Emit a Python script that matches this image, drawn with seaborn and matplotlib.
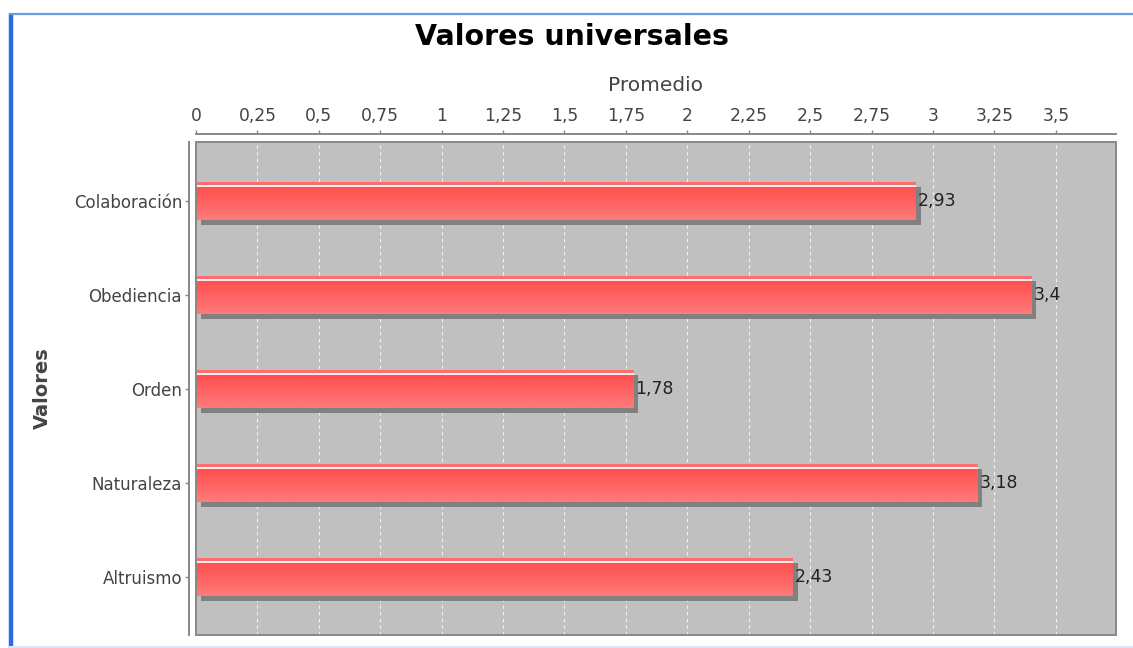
import numpy as np
import pandas as pd
import matplotlib
matplotlib.use("Agg")
import matplotlib.pyplot as plt
import matplotlib.patheffects as pe
from matplotlib.colors import to_rgb
from matplotlib.lines import Line2D
from matplotlib.patches import Rectangle
from matplotlib.ticker import FixedLocator, FuncFormatter
import seaborn as sns

# ---- data ----
categories = ["Colaboración", "Obediencia", "Orden", "Naturaleza", "Altruismo"]
values = [2.93, 3.4, 1.78, 3.18, 2.43]
value_labels = ["2,93", "3,4", "1,78", "3,18", "2,43"]
x_ticks = [0, 0.25, 0.5, 0.75, 1, 1.25, 1.5, 1.75, 2, 2.25, 2.5, 2.75, 3, 3.25, 3.5]

title = "Valores universales"
x_label = "Promedio"
y_label = "Valores"

sns.set_theme(style="white")
plt.rcParams["font.family"] = ["DejaVu Sans"]

df = pd.DataFrame({"cat": categories, "val": values})

fig = plt.figure(figsize=(11.33, 6.48), dpi=100)
ax = fig.add_axes([196 / 1133, 1 - 635 / 648, (1116 - 196) / 1133, (635 - 142) / 648])

sns.barplot(data=df, y="cat", x="val", orient="h", color="#FF5555",
            width=0.40, ax=ax, saturation=1, linewidth=0, zorder=2)

ax.set_facecolor("#C0C0C0")
ax.set_xlim(0, 3.745)
ax.set_ylim(4.62, -0.63)

# gradient fill + shadow on each bar
top = np.array(to_rgb("#FF6E6E"))
white = np.array(to_rgb("#FFEDED"))
red = np.array(to_rgb("#FF5050"))
light = np.array(to_rgb("#FF7A7A"))
n = 38
rows = []
for i in range(n):
    if i < 3:
        rows.append(top)
    elif i < 5:
        rows.append(white)
    else:
        t = (i - 5) / (n - 6)
        rows.append(red * (1 - t) + light * t)
grad = np.array(rows).reshape(n, 1, 3)

for p in ax.patches:
    x0, y0, w, h = p.get_x(), p.get_y(), p.get_width(), p.get_height()
    p.set_path_effects([pe.SimplePatchShadow(offset=(3.6, -3.6), shadow_rgbFace="#808080", alpha=1.0),
                        pe.Normal()])
    im = ax.imshow(grad, extent=[x0, x0 + w, y0 + h, y0], origin="upper",
                   aspect="auto", zorder=3, interpolation="bilinear")
    im.set_clip_path(p)

ax.set_xlim(0, 3.745)
ax.set_ylim(4.62, -0.63)

# value labels
for p, lab in zip(ax.patches, value_labels):
    ax.annotate(lab, (p.get_x() + p.get_width(), p.get_y() + p.get_height() / 2),
                xytext=(1.5, 0), textcoords="offset points", va="center", ha="left",
                fontsize=12.5, color="#222222", zorder=5)

# grid
ax.xaxis.set_major_locator(FixedLocator(x_ticks))
ax.xaxis.set_major_formatter(FuncFormatter(lambda v, pos: ("%g" % v).replace(".", ",")))
ax.grid(axis="x", color="white", linestyle=(0, (3, 3)), linewidth=0.8, alpha=0.8, zorder=0)
ax.set_axisbelow(True)

# axes on top / left with offset
ax.xaxis.tick_top()
ax.xaxis.set_label_position("top")
for s in ["bottom", "right"]:
    ax.spines[s].set_visible(False)
ax.spines["top"].set_position(("outward", 6))
ax.spines["left"].set_position(("outward", 5))
ax.spines["top"].set_color("#888888")
ax.spines["left"].set_color("#888888")
ax.spines["top"].set_linewidth(1.4)
ax.spines["left"].set_linewidth(1.4)
ax.tick_params(axis="x", top=True, bottom=False, direction="out", length=3, width=1,
               color="#888888", labelsize=12.3, labelcolor="#444444", pad=3)
ax.tick_params(axis="y", left=True, direction="out", length=3, width=1,
               color="#888888", labelsize=12, labelcolor="#444444", pad=2)

# plot frame
ax.add_patch(Rectangle((0, 0), 1, 1, transform=ax.transAxes, fill=False,
                       edgecolor="#888888", linewidth=1.4, zorder=6, clip_on=False))

ax.set_xlabel(x_label, fontsize=14.5, color="#444444", labelpad=12)
ax.set_ylabel(y_label, fontsize=14, color="#444444", fontweight="bold")
ax.yaxis.set_label_coords(-(196 - 52) / 920, 0.5)

fig.text(572 / 1133, 1 - 37 / 648, title, ha="center", va="center",
         fontsize=20.5, fontweight="bold", color="black")

# outer blue frame
fig.add_artist(Line2D([11 / 1133, 11 / 1133], [0, 1 - 13 / 648], color="#2A6BE0",
                      linewidth=3.2, solid_capstyle="butt"))
fig.add_artist(Line2D([9 / 1133, 1], [1 - 13.5 / 648, 1 - 13.5 / 648], color="#6A9AE0",
                      linewidth=1.6, solid_capstyle="butt"))
fig.add_artist(Line2D([9 / 1133, 1], [1 - 647 / 648, 1 - 647 / 648], color="#DDE6F8",
                      linewidth=1.5, solid_capstyle="butt"))

fig.savefig("out.png", dpi=100)
